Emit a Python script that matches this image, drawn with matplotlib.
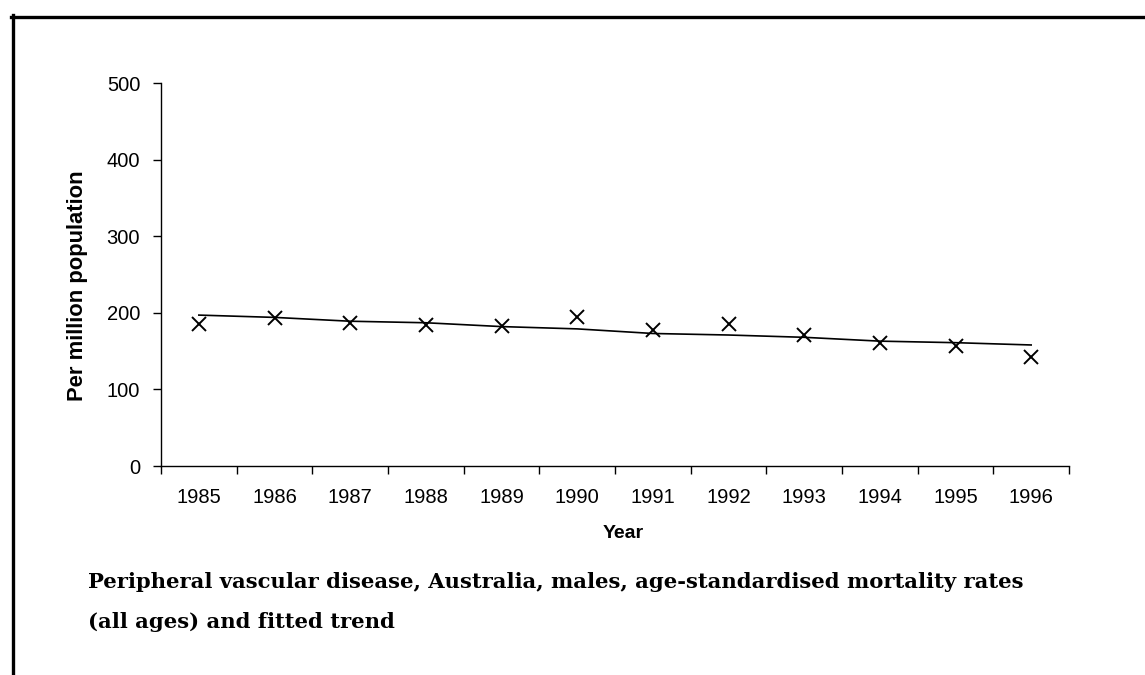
import numpy as np
import matplotlib
matplotlib.use('Agg')
import matplotlib.pyplot as plt
from matplotlib.lines import Line2D

years = ['1985', '1986', '1987', '1988', '1989', '1990',
         '1991', '1992', '1993', '1994', '1995', '1996']
rates = [186, 193, 187, 184, 183, 194, 178, 186, 171, 160, 157, 142]
trend = [197, 194, 189, 187, 182, 179, 173, 171, 168, 163, 161, 158]
caption = ('Peripheral vascular disease, Australia, males, age-standardised mortality rates\n'
           '(all ages) and fitted trend')

plt.rcParams['font.family'] = ['Liberation Sans', 'DejaVu Sans']

fig = plt.figure(figsize=(11.45, 6.75), dpi=100)
ax = fig.add_axes([161/1145, 1 - 466/675, (1069 - 161)/1145, (466 - 83)/675])

x = np.arange(len(years))
ax.plot(x, trend, color='black', lw=1.2)
ax.plot(x, rates, ls='none', marker='x', ms=10.5, mew=1.4, color='black')

ax.set_xlim(-0.5, len(years) - 0.5)
ax.set_ylim(0, 500)
ax.set_yticks([0, 100, 200, 300, 400, 500])
ax.set_xticks(np.arange(-0.5, len(years)), labels=[''] * (len(years) + 1))
ax.set_xticks(x, labels=years, minor=True)
ax.tick_params(axis='x', which='major', length=6, width=1, direction='out')
ax.tick_params(axis='x', which='minor', length=0, pad=16, labelsize=14.5)
ax.tick_params(axis='y', length=6, width=1, pad=9, labelsize=14.5)

for side in ['top', 'right']:
    ax.spines[side].set_visible(False)
for side in ['left', 'bottom']:
    ax.spines[side].set_linewidth(1)

ax.set_xlabel('Year', fontsize=14, fontweight='bold')
ax.xaxis.set_label_coords(0.509, -0.154)
ax.set_ylabel('Per million population', fontsize=15.8, fontweight='bold')
ax.yaxis.set_label_coords(-0.08, 0.47)

fig.text(88/1145, 1 - 602/675, caption, fontsize=15.2, fontweight='bold',
         family='DejaVu Serif', ha='left', va='center', linespacing=2.2)

# page border (top and left edges)
fig.add_artist(Line2D([11/1145, 1], [1 - 16.5/675, 1 - 16.5/675], color='black', lw=2.4))
fig.add_artist(Line2D([12.5/1145, 12.5/1145], [0, 1 - 15/675], color='black', lw=2.4))

fig.savefig('out.png', dpi=100)
